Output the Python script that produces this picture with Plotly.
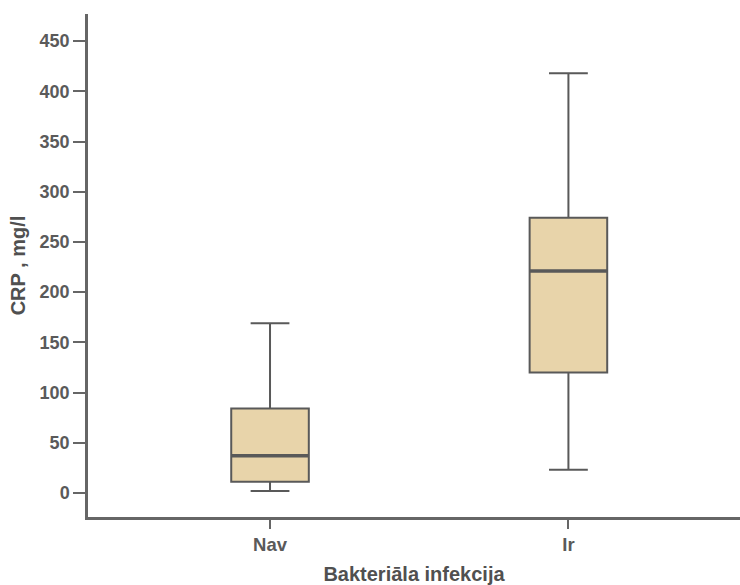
import plotly.graph_objects as go

categories = ["Nav", "Ir"]
lower_whisker = [2, 23]
q1 = [11, 120]
median = [37, 221]
q3 = [84, 274]
upper_whisker = [169, 418]

y_ticks = [0, 50, 100, 150, 200, 250, 300, 350, 400, 450]

fill = "#E8D4AA"
line_col = "#595959"
text_col = "#5a5a5a"
font_fam = "Liberation Sans, Arial, sans-serif"

fig = go.Figure()
for i, c in enumerate(categories):
    fig.add_trace(go.Box(
        x=[i], q1=[q1[i]], median=[median[i]], q3=[q3[i]],
        lowerfence=[lower_whisker[i]], upperfence=[upper_whisker[i]],
        width=0.26, whiskerwidth=0.5, fillcolor=fill,
        line=dict(color=line_col, width=2), boxpoints=False,
        name=c, showlegend=False, hoverinfo="y",
    ))
    # thicker median line
    fig.add_trace(go.Scatter(
        x=[i - 0.13, i + 0.13], y=[median[i], median[i]], mode="lines",
        line=dict(color=line_col, width=3.5), showlegend=False, hoverinfo="skip",
    ))

fig.update_layout(
    width=740, height=585,
    margin=dict(l=88, r=0, t=14, b=68),
    paper_bgcolor="white", plot_bgcolor="white",
    font=dict(family=font_fam, color=text_col, size=18),
)
fig.update_xaxes(
    range=[-0.61, 1.575], tickvals=[0, 1], ticktext=categories,
    showline=True, linecolor="#666666", linewidth=2.5,
    ticks="outside", ticklen=9, tickwidth=2, tickcolor="#666666",
    showgrid=False, zeroline=False, automargin=False,
    tickfont=dict(family=font_fam, size=18.5, color=text_col, weight="bold"),
    title=dict(text="<b>Bakteriāla infekcija</b>", font=dict(size=20, color="#505050"), standoff=24),
)
fig.update_yaxes(
    range=[-24, 477], tickvals=y_ticks,
    showline=True, linecolor="#666666", linewidth=2.5,
    ticks="outside", ticklen=12, tickwidth=2, tickcolor="#666666",
    showgrid=False, zeroline=False, automargin=False,
    tickfont=dict(family=font_fam, size=18, color=text_col, weight="bold"),
    title=dict(text="<b>CRP , mg/l</b>", font=dict(size=20, color="#505050"), standoff=9),
)

fig.write_html("out.html")
